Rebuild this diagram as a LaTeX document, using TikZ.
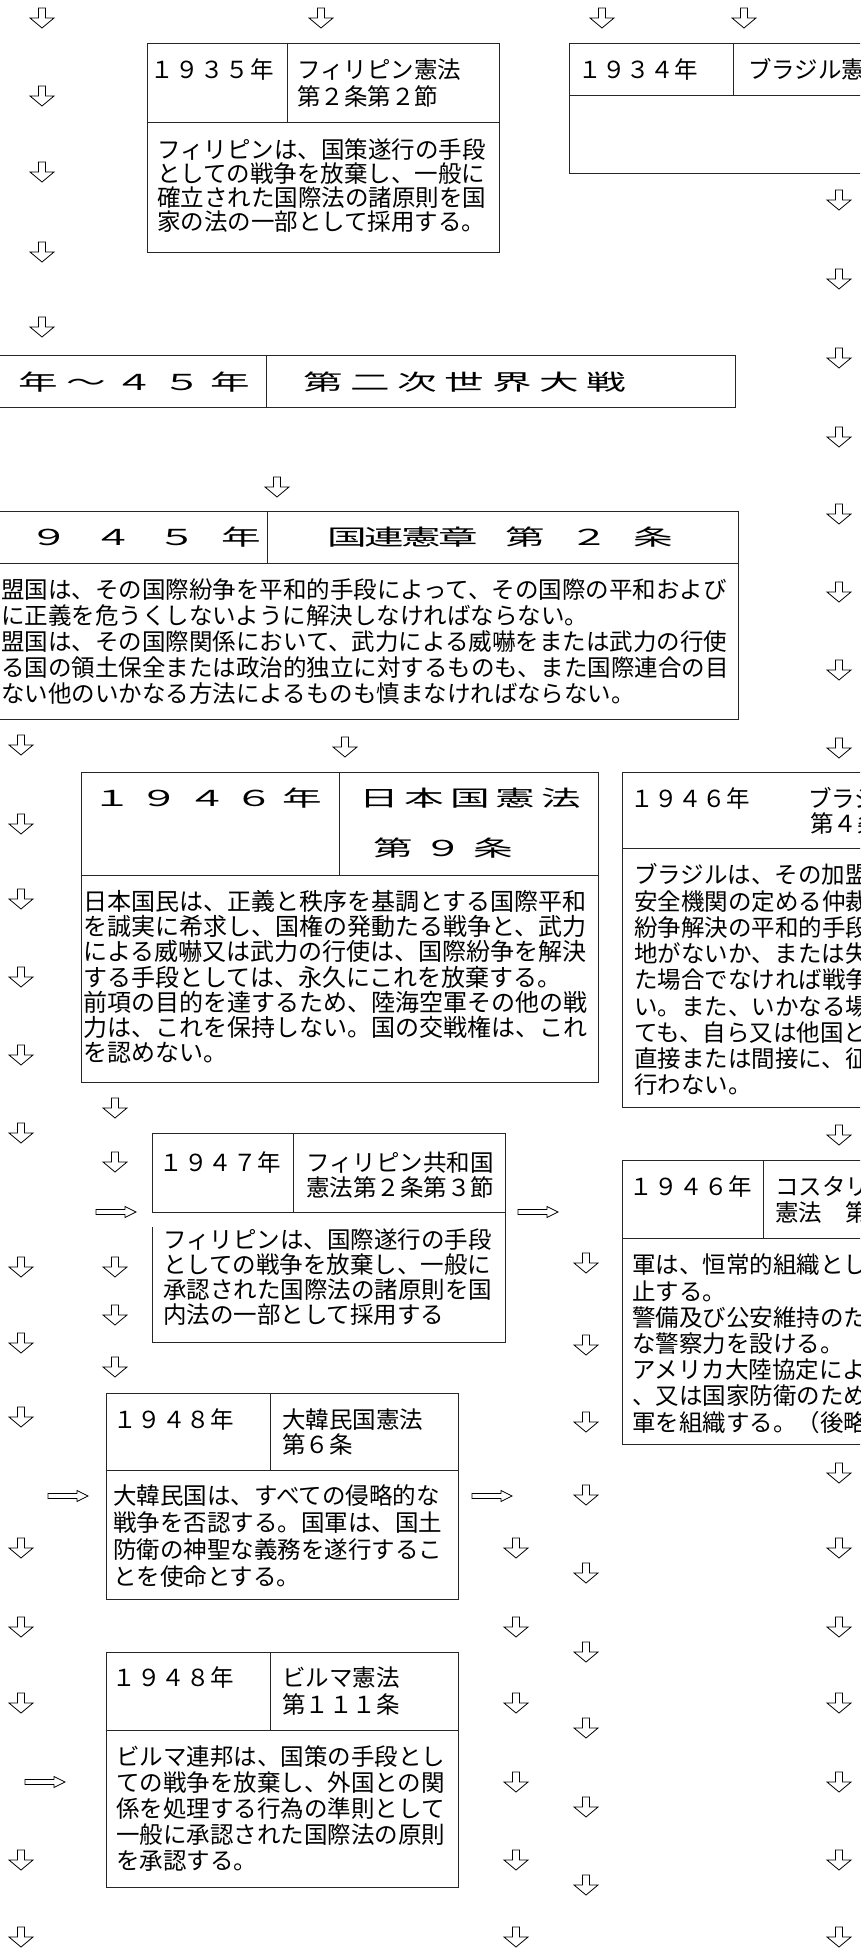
\documentclass[tikz,border=0pt]{standalone}
\usepackage{fontspec}
\newfontfamily\jp{Noto Sans CJK JP}
\newfontfamily\jpw[FakeStretch=1.8]{Noto Sans CJK JP}
\makeatletter
\newcommand\pitched[2]{\def\pt@w{#1}\pt@loop#2\relax}
\def\pt@loop#1{\ifx\relax#1\else\makebox[\pt@w][c]{#1}\expandafter\pt@loop\fi}
\makeatother
\tikzset{
  boxl/.style={draw=black!85, line width=0.9pt},
  arrl/.style={draw=black, line width=0.8pt, fill=white, line join=miter},
  txt/.style={inner sep=0pt, anchor=west, font=\jp\fontsize{23.5}{26}\selectfont, text height=20.7pt, text depth=2.8pt},
  txtj/.style={txt, font=\jp\fontsize{24}{26}\selectfont, text height=21.1pt, text depth=2.9pt},
  wtxt/.style={inner sep=0pt, anchor=west, font=\jpw\fontsize{22}{26}\selectfont, text height=19.4pt, text depth=2.6pt},
  darr/.pic={\draw[arrl] (-3.5,-10) -- (3.5,-10) -- (3.5,0) -- (12,0) -- (0,10) -- (-12,0) -- (-3.5,0) -- cycle;},
  rarr/.pic={\draw[arrl] (-20,-2.5) -- (9,-2.5) -- (9,-5.5) -- (20,0) -- (9,5.5) -- (9,2.5) -- (-20,2.5) -- cycle;}
}
\begin{document}
\begin{tikzpicture}[x=1pt,y=-1pt]
\useasboundingbox (0,0) rectangle (860,1956);
\clip (0,0) rectangle (860,1956);
\fill[white] (0,0) rectangle (860,1956);

% ---------- boxes ----------
% 1935 Philippines
\draw[boxl] (147,43) rectangle (499,252);
\draw[boxl] (147,122) -- (499,122);
\draw[boxl] (287,43) -- (287,122);
% 1934 Brazil
\draw[boxl] (569,43) rectangle (875,173);
\draw[boxl] (569,95) -- (875,95);
\draw[boxl] (733,43) -- (733,95);
% WWII
\draw[boxl] (-5,355) -- (735,355) -- (735,407) -- (-5,407);
\draw[boxl] (266,355) -- (266,407);
% UN Charter
\draw[boxl] (-5,511) -- (738,511) -- (738,719) -- (-5,719);
\draw[boxl] (-5,563) -- (738,563);
\draw[boxl] (267,511) -- (267,563);
% Japan
\draw[boxl] (81,772) rectangle (598,1082);
\draw[boxl] (81,875) -- (598,875);
\draw[boxl] (339,772) -- (339,875);
% Brazil 1946
\draw[boxl] (622,772) rectangle (875,1107);
\draw[boxl] (622,848) -- (875,848);
% Philippines 1947
\draw[boxl] (152,1212) -- (152,1133) -- (505,1133) -- (505,1342) -- (152,1342) -- (152,1227);
\draw[boxl] (152,1212) -- (505,1212);
\draw[boxl] (293,1133) -- (293,1212);
% Costa Rica
\draw[boxl] (622,1160) rectangle (875,1444);
\draw[boxl] (622,1238) -- (875,1238);
\draw[boxl] (763,1160) -- (763,1238);
% Korea
\draw[boxl] (106,1393) rectangle (458,1599);
\draw[boxl] (106,1470) -- (458,1470);
\draw[boxl] (270,1393) -- (270,1470);
% Burma
\draw[boxl] (106,1652) rectangle (458,1887);
\draw[boxl] (106,1730) -- (458,1730);
\draw[boxl] (270,1652) -- (270,1730);

% ---------- texts ----------
% 1935
\node[txt] (y1935) at (150,70) {\pitched{24.8pt}{１９３５年}};
\node[txt] (h1935a) at (297,70) {フィリピン憲法};
\node[txt] (h1935b) at (297,97) {第２条第２節};
\foreach \t [count=\i] in {フィリピンは、国策遂行の手段,としての戦争を放棄し、一般に,確立された国際法の諸原則を国,家の法の一部として採用する。}
  \node[txt] (b1935-\i) at (157,{150+24*(\i-1)}) {\t};
% 1934
\node[txt] (y1934) at (578,70) {\pitched{24pt}{１９３４年}};
\node[txt] (h1934) at (748,70) {ブラジル憲法};
% WWII
\node[wtxt] (yww2) at (-178,382) {\pitched{48pt}{１９３９年〜４５年}};
\node[wtxt] (hww2) at (299,382) {\pitched{47.3pt}{第二次世界大戦}};
% UN
\node[wtxt] (yun) at (-47,537) {\pitched{64pt}{１９４５年}};
\node[wtxt] (hun1) at (328.5,537) {\pitched{37pt}{国連憲章}};
\node[wtxt] (hun2) at (493,537) {\pitched{64pt}{第２条}};
\foreach \t [count=\i] in {盟国は、その国際紛争を平和的手段によって、その国際の平和および,に正義を危うくしないように解決しなければならない。,盟国は、その国際関係において、武力による威嚇をまたは武力の行使,る国の領土保全または政治的独立に対するものも、また国際連合の目,ない他のいかなる方法によるものも慎まなければならない。}
  \node[txt] (bun-\i) at (1,{590+26*(\i-1)}) {\t};
% Japan
\node[wtxt] (yjp) at (88,798) {\pitched{47.5pt}{１９４６年}};
\node[wtxt] (hjp1) at (356,798) {\pitched{45.5pt}{日本国憲法}};
\node[wtxt] (hjp2) at (368,848) {\pitched{50pt}{第９条}};
\foreach \t [count=\i] in {日本国民は、正義と秩序を基調とする国際平和,を誠実に希求し、国権の発動たる戦争と、武力,による威嚇又は武力の行使は、国際紛争を解決,する手段としては、永久にこれを放棄する。,前項の目的を達するため、陸海空軍その他の戦,力は、これを保持しない。国の交戦権は、これ,を認めない。}
  \node[txtj] (bjp-\i) at (83,{901+25.3*(\i-1)}) {\t};
% Brazil 1946
\node[txt] (ybr) at (630,799) {\pitched{24pt}{１９４６年}};
\node[txt] (hbr1) at (808,799) {ブラジル憲法};
\node[txt] (hbr2) at (810,824) {第４条};
\foreach \t [count=\i] in {ブラジルは、その加盟,安全機関の定める仲裁,紛争解決の平和的手段,地がないか、または失,た場合でなければ戦争,い。また、いかなる場,ても、自ら又は他国と,直接または間接に、征,行わない。}
  \node[txt] (bbr-\i) at (634,{875+26.25*(\i-1)}) {\t};
% Philippines 1947
\node[txt] (y1947) at (159,1163) {\pitched{24.5pt}{１９４７年}};
\node[txt] (h1947a) at (306,1163) {フィリピン共和国};
\node[txt] (h1947b) at (306,1188) {憲法第２条第３節};
\foreach \t [count=\i] in {フィリピンは、国際遂行の手段,としての戦争を放棄し、一般に,承認された国際法の諸原則を国,内法の一部として採用する}
  \node[txt] (b1947-\i) at (163,{1240+25*(\i-1)}) {\t};
% Costa Rica
\node[txt] (ycr) at (629,1187) {\pitched{24.75pt}{１９４６年}};
\node[txt] (hcr1) at (775,1187) {コスタリカ};
\node[txt] (hcr2) at (775,1213) {憲法　第１２条};
\foreach \t [count=\i] in {軍は、恒常的組織とし,止する。,警備及び公安維持のた,な警察力を設ける。,アメリカ大陸協定によ,、又は国家防衛のため,軍を組織する。（後略}
  \node[txt] (bcr-\i) at (632,{1265+26.2*(\i-1)}) {\t};
% Korea
\node[txt] (ykr) at (113,1420) {\pitched{24.25pt}{１９４８年}};
\node[txt] (hkr1) at (282,1420) {大韓民国憲法};
\node[txt] (hkr2) at (282,1445) {第６条};
\foreach \t [count=\i] in {大韓民国は、すべての侵略的な,戦争を否認する。国軍は、国土,防衛の神聖な義務を遂行するこ,とを使命とする。}
  \node[txt] (bkr-\i) at (113,{1496+27*(\i-1)}) {\t};
% Burma
\node[txt] (ybu) at (112,1678) {\pitched{24.5pt}{１９４８年}};
\node[txt] (hbu1) at (282,1678) {ビルマ憲法};
\node[txt] (hbu2) at (282,1705) {第１１１条};
\foreach \t [count=\i] in {ビルマ連邦は、国策の手段とし,ての戦争を放棄し、外国との関,係を処理する行為の準則として,一般に承認された国際法の原則,を承認する。}
  \node[txt] (bbu-\i) at (116,{1757+26*(\i-1)}) {\t};

% ---------- arrows ----------
\foreach \x/\y in {42/18,321/18,602/18,744/18,42/96,42/172,42/252,42/327,277/487,345/747}
  \pic at (\x,\y) {darr};
\foreach \y in {200,279,358,437,514,592,670,748,1135,1473,1548,1627,1703,1782,1860,1937}
  \pic at (839,\y) {darr};
\foreach \y in {745,824,899,977,1055,1133,1267,1343,1417,1548,1627,1703,1860,1937}
  \pic at (21,\y) {darr};
\foreach \y in {1108,1162,1267,1315,1367}
  \pic at (115,\y) {darr};
\foreach \y in {1263,1345,1422,1495,1573,1652,1728,1807,1885}
  \pic at (586,\y) {darr};
\foreach \y in {1548,1627,1703,1782,1860,1937}
  \pic at (516,\y) {darr};
\foreach \x/\y in {116/1212,538/1212,68/1496,492/1496,45/1782}
  \pic at (\x,\y) {rarr};
\end{tikzpicture}
\end{document}
